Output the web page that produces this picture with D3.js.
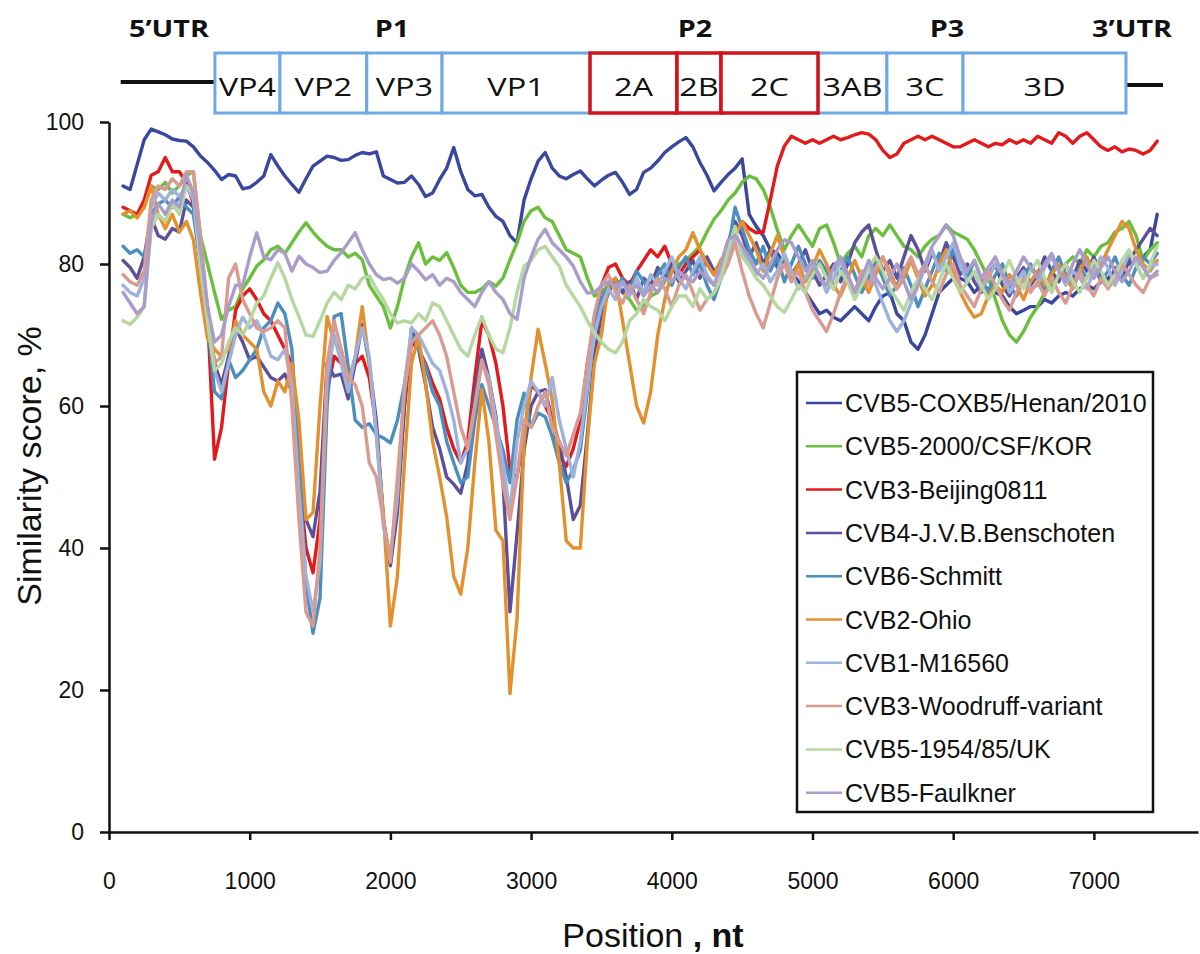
<!DOCTYPE html>
<html><head><meta charset="utf-8">
<script src="https://cdn.jsdelivr.net/npm/d3@7"></script>
<style>body{margin:0;background:#fff}svg{display:block}</style>
</head><body>
<svg id="chart" width="1200" height="954"></svg>
<script>
// ---------- DATA ----------
const positions = d3.range(100, 7451, 50); // nt, 148 points
const xTicks = [0,1000,2000,3000,4000,5000,6000,7000];
const yTicks = [0,20,40,60,80,100];

const seriesNames = ["CVB5-COXB5/Henan/2010","CVB5-2000/CSF/KOR","CVB3-Beijing0811","CVB4-J.V.B.Benschoten","CVB6-Schmitt","CVB2-Ohio","CVB1-M16560","CVB3-Woodruff-variant","CVB5-1954/85/UK","CVB5-Faulkner"];
const seriesColors = ["#3a479e","#6abf3c","#e31a1c","#5e4f99","#4a8fc0","#e3902f","#9db2dd","#d99b91","#b6d7a0","#aa9dca"];

const henan = [91,90.5,94,97.5,99,98.6,98.2,97.6,97.4,97.3,
96.5,95.2,94.3,93.2,91.9,92.6,92.4,90.6,90.8,91.5,
92.4,95.4,93.8,92.4,91.2,90.1,92,93.8,94.5,95.2,
95,94.6,94.7,95.3,95.7,95.5,95.8,92.4,91.9,91.4,
91.5,92.4,91.2,89.5,90,91.9,93.5,96.4,93,90.5,
89.6,89.8,88,86.7,86,84,83,89,92,94.5,
95.7,93.5,92.4,92,92.6,93.1,92,91,91.8,92.5,
92.9,91.5,89.8,90.5,92.9,93.5,94.5,95.7,96.5,97.2,
97.8,96.5,94.3,92.5,90.3,91.5,92.6,93.5,94.8,87,
85.3,84,82,81.5,80,79,77.5,76,74.5,73,
73.5,72.5,72,73,74,73,72,74,75.5,76,
73,72,69,68,70,73,76,77,78,78,
77.5,76,77,76.5,76,75.5,74,73,73.5,74,
74,75,74.5,75.5,76,75.5,76.5,77,76.5,77.5,
78,79,79.5,80,80.5,81,82,87];

const kor = [87,86.5,87,88,91,90.5,91.5,90,91,92.5,
93,84,80,76,72.2,73.5,74,76.5,78,79.7,
80.6,82,82.5,81.5,83,84.5,85.8,84.5,83.4,82.5,
82,82,81,81.5,80.6,77,75.5,74,71,74,
78,81,83,80,81,80.5,81.6,79.5,77,76,
76,76.5,77.5,76.9,78,80.6,83,86,87.5,88,
86.5,86,84,82,81.5,81,78,75.5,76,77,
77,76,75,73.5,74,75.5,76,77.5,79,80,
80.5,81.5,82.5,84.5,86.3,87.5,89,90,91.5,92.4,
92,90.5,88,84.8,82,84,85.5,84,82.5,85,
85.5,83,80,81.5,82.5,81,84,85,84,85.5,
84,82.5,82,81,82.5,83.5,84,85.5,84.5,84,
83.5,82,80,78,75,72,70,69,70.5,72.5,
74,76,77,78.5,80,81,80,82,81,82.5,
83,84.5,85,86,84,80.5,82,83];

const beijing = [88,87.5,87,89,92.5,93,95,93,93,91.5,
88.5,82,73,52.5,57,66,73.5,75.5,76.5,75,
73,72,70,68,66,50,40,36.5,44,62,
67,66,64,66,67,64,57,44,38,47,
60,69,68,66,63.2,61,57,54,52,55,
64,72,70,66,60,51,50,56,63,62,
60,58,53,51.5,54,58,66,72,77,79.5,
80,78,77,79,80.5,82,81,82.5,80,78.5,
80,81,82,80,78.5,80,81.5,84,86,85,
84.4,84.5,89,93.8,96.6,98,97.5,97,97.5,97,
97.5,98,97.5,97.8,98.2,98.5,98.3,97.5,96,95,
95.5,97,97.5,98,97.5,98,97.5,97,96.5,96.5,
97,97.5,97,96.5,97,96.8,97.5,97,97.5,97,
98,97.5,97,98.5,98,97,98,98.5,97.5,96.5,
96,96.5,95.8,96.2,96,95.5,96,97.3];

const benschoten = [80.5,79.5,78,81,86.5,84,83.5,85,84.5,89,
88,80,74,66,63,67,71,69,66.5,67,
65.5,64,63.5,64.5,62,52,44,41.6,48,66,
64.2,64.5,61,66,71.5,66,58,44,37.5,45,
60,71,68,63,57,54,50,49,47.7,52,
62,68,64,58.5,49.6,31,42,53.8,60,62,
62.3,58,54.8,50,44,46,56,67,73,76,
78,76,77.5,75,78,77,79.5,78,80,77.5,
79,80.5,78,81,79,80,83,86,84,81,
83,80,82,79.5,81,78.5,80,82,79,77,
78.5,80,77.5,80,83,84.5,85.5,82,79,80.5,
78,81,84,82,79,81.5,80,83,81,78.5,
80,77.5,76,78.5,80,77,75.5,78,79.5,77,
78.5,81,79,77.5,80,78,80.5,79,81,78.5,
77,79.5,78,80.5,82,83.5,85,84];

const schmitt = [82.5,81.5,82,81,87,88.5,89,88,89.5,88,
87,80,72,62,61,66.5,64,65,66.5,68,
71,72,74.5,73,68,52,35,28,33,60,
72.6,73,65.6,58,57,57.5,56,55.5,54.8,58,
63,70,68,65.6,62,60,55,52,49.2,50,
58,63,60,57,53.8,49.2,58,61.8,57,59,
58.5,55.7,52,49.2,51,53.8,62,72,75,77,
76.5,78,76,79,77.5,76,78.5,80,77,79.5,
81,78.5,80,77,75,78,82,88,85,82,
80,82.5,79,81,77.5,80,82.5,80,78,80.5,
79,76.5,79,81,78.5,76,78,80.5,78,75.5,
77,79.5,77,74,76.5,79,81.5,79,82,80,
78,80.5,78,76,78.5,80,77,75.5,78,80,
78,76.5,79,81,78.5,77,79.5,78,80,77.5,
79,81,78.5,77,79.5,81,80,81.5];

const ohio = [87,87.5,86.5,88,91,87,85,87,84.5,86,
83.4,76,69.5,68,67,68,72,70,69,68,
62,60,63.5,62,66,58,44,45,60,72.6,
69,68,63.2,67,74,66,56,45,29,36,
52,66,69.8,63.2,55,50,44.4,36,33.5,40,
52,62.3,55,42.5,41,19.5,30,55,64,70.8,
66,60.9,52,41,40,40,55,66,70,77.3,
78,72,66,60,57.6,62,70,75,79,81,
82,84.4,82,80,78.5,80.6,82,84,86,84,
82,79,81.5,84,81,78,80,77.5,79.5,82,
80,77,75.5,78,80.5,78,76,78.5,81,79,
76.5,78,80.5,78,75.5,77,80,82,79,76,
74,72.5,73,75.5,77,76,78.5,77,75,77.5,
79,77,78.5,80,78,76.5,79,81,78.5,80,
82,84,86,85,82,80,79,80.5];

const m16560 = [77,76,75.5,78,88,90,89,90.5,89.5,91,
89,80,72,65,62,66,70,72.5,71,72,
70,67,66.5,68,63,48,36,31,38,64,
70,66,62,67,71,67,56,43,39,47,
63,71,70,68,66,65,62,58,52,54,
60,66,64,58,52,45,55,60,63.5,62,
60,64,58,54,50,55,63,70,74,76.5,
75,77.5,75.5,78,76,78.5,77,79,81,78,
76.5,79,81,78.5,77,79.5,81,84,82,80,
78.5,80,77.5,79,81.5,79,76.5,78,80,78.5,
76,78,80.5,78,75.5,77,79.5,77,74.5,72,
70.5,72,74.5,77,79.5,82,79,81,83,80,
77.5,79,76.5,78,80,78.5,76,77.5,79,76.5,
77,79.5,81,79,77,79,78,76.5,79,81,
79.5,77,79,81.5,80,78,79.5,80];

const woodruff = [78.5,77.5,77,79,89,91,90.5,92,91,93,
93,84,74,66,67,78,80,75,73,71,
70.5,71,72,71,60,44,31,29,40,66,
72,68,64,63,60,52,50,44,38,50,
62,69,70,71,72,70,67,62,57,54,
60,66.5,63,56,49,44,50,58,57,60,
62,57,55,53,56,59,66,73,77,78.5,
76,74.5,77,75,73,76,78,76.5,74,77,
78.5,76,73.5,75,76,78,80,83,79,75.5,
73,71,74.5,78,80,77.5,79,76,73.5,72,
70.5,73,76,78.5,76,79,77,79.5,81,78,
76.5,79,81,78.5,80,77.5,76,78.5,80,77,
75.5,74,76.5,79,77,75,73.5,76,78,76,
77.5,75.5,78,76,74.5,77,79,77,75.5,78,
76.5,78,80,78.5,77,76,78,78.5];

const uk = [72,71.5,72.5,74,85,87,86,88.5,87,91,
90,80,72,65,66,69,71,70,72,74.5,
75.5,78,80.2,78,75,72.6,70,69.8,72,74.5,
76,75,77,76.5,78,78.3,76.5,75,73,71.7,
72,71.7,73,72,74.5,74,72,70,68,67,
70,72.6,70,68,67.5,71,76,79.7,80.5,82,
82.5,81,79.7,77,75.5,74,72,70.3,69,68,
67.5,69,72,73,75,74,73.5,72,74,75.5,
75.5,74,76.5,75,75.9,78,82,85.3,81,79.7,
78,77,75.5,74,73.2,75,77,76,78.5,80,
78,76.5,79,77.5,75,77,79.5,81,79,76.5,
75,73.5,76,78,76.5,75,77.5,80,78,76,
77.5,79,77,75,76.5,78.5,80.5,78,76.5,79,
80.5,78,76,78.5,80,77.5,76,78,80.5,79,
77,78.5,80.5,82,80,78,80,82.5];

const faulkner = [76,74.5,73,74,86,88.5,87,89,88,92.5,
90,82,74,69,70,74,77,77,81,84.4,
81,80.6,82,81.5,79,81.1,80,79.5,78.8,79,
80.5,81.6,83,84.4,82,80,78.5,77.8,78,77.3,
78,80,79,77.8,78.5,77,78,77.5,76,75,
74,76,77.5,76,75,73,72.2,78,81,83.5,
84.9,83,82,81,79.7,77.5,75.9,76,76.9,77.5,
76.9,77.5,76,77,75.5,77,76,78,77.5,79,
78,77.5,79,78,77,80,83.4,84,82.5,81,
79,78,80,82,83.4,83,81,79,80.5,78,
77,79.5,81,78.5,76,78,80.5,78,76.5,78,
80,77.5,75,77,80,82.5,84,85.5,84,81,
79,80.5,78,79.5,81,78.5,77,79,81,79.5,
78,80,81.5,79,77.5,80,82,80,78,79.5,
81,79,77.5,79,81,79.5,78,79];

const seriesValues = [henan,kor,beijing,benschoten,schmitt,ohio,m16560,woodruff,uk,faulkner];

// genome map
const segmentNames = ["VP4","VP2","VP3","VP1","2A","2B","2C","3AB","3C","3D"];
const segmentBounds = [753,1215,1832,2367,3419,4037,4350,5039,5529,6070,7228];
const segmentRegion = ["P1","P1","P1","P1","P2","P2","P2","P3","P3","P3"];
const regionLabels = ["5’UTR","P1","P2","P3","3’UTR"];
const regionLabelPos = [426,2011,4165,5956,7271];
const utrLines = [[83,753],[7228,7491]];

// ---------- CHART ----------
const svg = d3.select("#chart");
const FONT = "'Liberation Sans', Arial, sans-serif";
const x = d3.scaleLinear().domain([0,7740]).range([109,1198]);
const y = d3.scaleLinear().domain([0,100]).range([832,122]);

// genome map
const map = svg.append("g");
const boxTop = 53, boxBot = 113;
map.selectAll("line.utr").data(utrLines).join("line")
  .attr("x1", d=>x(d[0])).attr("x2", d=>x(d[1]))
  .attr("y1", (d,i)=> i===0?82:85).attr("y2", (d,i)=> i===0?82:85)
  .attr("stroke","#111").attr("stroke-width",4);
const segs = segmentNames.map((n,i)=>({name:n, s:segmentBounds[i], e:segmentBounds[i+1], r:segmentRegion[i]}));
const order = segs.filter(d=>d.r!=="P2").concat(segs.filter(d=>d.r==="P2"));
map.selectAll("rect.seg").data(order).join("rect")
  .attr("x", d=>x(d.s)).attr("y", boxTop)
  .attr("width", d=>x(d.e)-x(d.s)).attr("height", boxBot-boxTop)
  .attr("fill","#fff")
  .attr("stroke", d=>d.r==="P2" ? "#d3121b" : "#6ea9e6")
  .attr("stroke-width", d=>d.r==="P2" ? 3.5 : 3);
map.selectAll("text.seg").data(segs).join("text")
  .attr("transform", d=>`translate(${(x(d.s)+x(d.e))/2},96) scale(1.3,1)`)
  .attr("text-anchor","middle")
  .attr("font-family","'Open Sans', sans-serif").attr("font-size",25)
  .attr("fill","#111").text(d=>d.name);
map.selectAll("text.reg").data(regionLabels).join("text")
  .attr("transform", (d,i)=>`translate(${x(regionLabelPos[i])},37) scale(1.25,1)`)
  .attr("text-anchor","middle")
  .attr("font-family","'Open Sans', sans-serif").attr("font-weight","bold").attr("font-size",23)
  .attr("fill","#111").text(d=>d);

// axes
const gx = svg.append("g").attr("transform","translate(0,832)")
  .call(d3.axisBottom(x).tickValues(xTicks).tickSize(8).tickSizeOuter(0).tickPadding(33).tickFormat(d3.format("d")));
const gy = svg.append("g").attr("transform","translate(109,0)")
  .call(d3.axisLeft(y).tickValues(yTicks).tickSize(9).tickSizeOuter(0).tickPadding(16));
[gx,gy].forEach(g=>{
  g.attr("font-family",FONT).attr("font-size",23);
  g.selectAll("path.domain").attr("stroke","#111").attr("stroke-width",2.5);
  g.selectAll(".tick line").attr("stroke","#111").attr("stroke-width",2.5);
  g.selectAll(".tick text").attr("fill","#111");
});
gx.selectAll(".tick text").attr("dy","0.71em");

// lines
const line = d3.line().x((d,i)=>x(positions[i])).y(d=>y(d));
svg.append("g").selectAll("path").data(seriesValues).join("path")
  .attr("d", line).attr("fill","none")
  .attr("stroke",(d,i)=>seriesColors[i]).attr("stroke-width",3.4)
  .attr("stroke-linejoin","round").attr("stroke-linecap","round");

// legend
const lg = svg.append("g");
lg.append("rect").attr("x",797).attr("y",372).attr("width",356).attr("height",440)
  .attr("fill","#fff").attr("stroke","#111").attr("stroke-width",2.5);
const rows = lg.selectAll("g.row").data(seriesNames).join("g")
  .attr("transform",(d,i)=>`translate(0,${403+i*43.3})`);
rows.append("line").attr("x1",806).attr("x2",842).attr("y1",0).attr("y2",0)
  .attr("stroke",(d,i)=>seriesColors[i]).attr("stroke-width",2.5);
rows.append("text").attr("x",845).attr("dy","0.36em")
  .attr("font-family",FONT).attr("font-size",25).attr("fill","#111").text(d=>d);

// titles
const xt = svg.append("text").attr("x",653).attr("y",947).attr("text-anchor","middle")
  .attr("font-family",FONT).attr("font-size",34).attr("fill","#111");
xt.append("tspan").text("Position ");
xt.append("tspan").attr("font-weight","bold").text(", nt");
svg.append("text").attr("transform","translate(41,466) rotate(-90)").attr("text-anchor","middle")
  .attr("font-family",FONT).attr("font-size",34).attr("fill","#111").text("Similarity score, %");
</script>
</body></html>
